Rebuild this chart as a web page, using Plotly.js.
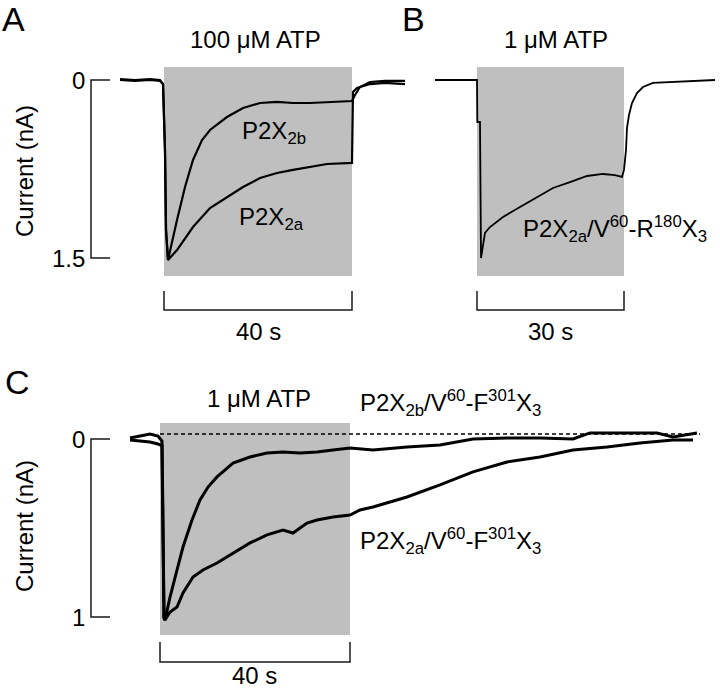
<!DOCTYPE html>
<html>
<head>
<meta charset="utf-8">
<script src="https://cdn.plot.ly/plotly-3.0.1.min.js"></script>
<style>
body { margin: 0; background: #fff; }
#chart { width: 720px; height: 689px; }
</style>
</head>
<body>
<div id="chart"></div>
<script>
// time in s from ATP onset, current = inward current amplitude in nA

// panel A, 100 uM ATP
var timeA2b = [-9.36, -6.17, -2.98, -0.85, -0.21, 0.21, 0.43, 0.85, 2.77, 4.47, 6.17, 8.09, 9.79, 13.40, 16.81, 20.43, 24.04, 27.45, 31.06, 34.68, 40.00, 40.64, 41.70, 43.83, 47.02, 51.28];
var currentA2b = [0.000, 0.008, 0.000, 0.008, 0.034, 0.590, 1.264, 1.517, 1.180, 0.902, 0.674, 0.506, 0.421, 0.312, 0.236, 0.194, 0.185, 0.194, 0.194, 0.185, 0.177, 0.126, 0.059, 0.017, 0.008, 0.008];
var timeA2a = [-9.36, -6.17, -2.98, -0.85, -0.21, 0.21, 0.43, 0.85, 2.77, 6.17, 9.79, 13.40, 16.81, 20.43, 24.04, 27.45, 31.06, 34.68, 40.00, 40.21, 41.06, 43.83, 47.02, 51.28];
var currentA2a = [-0.008, 0.000, -0.008, 0.000, 0.034, 0.590, 1.264, 1.517, 1.433, 1.239, 1.079, 0.986, 0.902, 0.826, 0.784, 0.758, 0.733, 0.708, 0.699, 0.101, 0.067, 0.034, 0.025, 0.034];

// panel B, 1 uM ATP, P2X2a/V60-R180X3
var timeB = [-8.57, -3.47, 0.00, 0.06, 0.61, 0.82, 1.22, 1.63, 2.65, 5.31, 8.78, 12.24, 15.51, 18.98, 22.45, 25.71, 28.16, 29.59, 30.00, 30.41, 30.61, 31.02, 31.63, 32.65, 33.88, 35.92, 39.39, 46.12, 48.57];
var currentB = [0, 0, 0, 0.354, 0.354, 1.500, 1.390, 1.289, 1.239, 1.154, 1.070, 0.986, 0.910, 0.860, 0.809, 0.792, 0.801, 0.817, 0.758, 0.590, 0.404, 0.295, 0.194, 0.110, 0.059, 0.025, 0.017, 0, 0];

// panel C, 1 uM ATP
var timeC2b = [-6.32, -4.21, -2.11, -0.42, 0.42, 0.63, 0.84, 1.05, 2.11, 3.58, 4.84, 6.74, 8.42, 10.11, 12.00, 15.37, 18.95, 22.53, 25.89, 29.47, 33.05, 36.42, 40.00, 44.84, 52.00, 58.95, 65.89, 73.05, 80.00, 86.95, 90.53, 97.47, 104.63, 108.00, 113.05];
var currentC2b = [-0.006, -0.017, -0.028, -0.017, 0.011, 0.455, 1.006, 1.017, 0.888, 0.736, 0.607, 0.455, 0.343, 0.270, 0.213, 0.135, 0.101, 0.079, 0.073, 0.079, 0.073, 0.062, 0.051, 0.062, 0.045, 0.034, 0.000, -0.006, -0.006, 0.000, -0.034, -0.034, -0.034, -0.011, -0.034];
var timeC2a = [-6.32, -4.21, -2.11, -0.42, 0.42, 0.63, 0.84, 1.05, 2.11, 3.58, 4.84, 6.95, 9.05, 12.00, 15.37, 18.95, 22.53, 25.89, 28.00, 30.95, 33.05, 36.42, 40.00, 42.11, 44.84, 52.00, 58.95, 65.89, 73.05, 80.00, 86.95, 94.11, 101.05, 108.00, 112.21];
var currentC2a = [0.006, 0.011, 0.017, 0.028, 0.039, 0.567, 1.000, 1.017, 0.972, 0.944, 0.865, 0.775, 0.736, 0.697, 0.640, 0.584, 0.539, 0.511, 0.528, 0.472, 0.455, 0.438, 0.427, 0.399, 0.382, 0.326, 0.258, 0.185, 0.129, 0.101, 0.062, 0.045, 0.022, 0.006, 0.006];

// ATP application windows (s) and scale bars
var atpA = [0, 40], atpB = [0, 30], atpC = [0, 40];
var scaleA = 1.5, scaleC = 1;     // nA
var barA = 40, barB = 30, barC = 40;  // s

var W = 720, H = 689;
function px(x) { return x / W; }
function py(y) { return 1 - y / H; }

var font = 'Liberation Sans, Arial, Helvetica, sans-serif';

function trace(x, y, xa, ya, w) {
  return { x: x, y: y, xaxis: xa, yaxis: ya, type: 'scatter', mode: 'lines',
           line: { color: '#000', width: w }, hoverinfo: 'skip', showlegend: false };
}

var data = [
  trace(timeA2a, currentA2a, 'x', 'y', 2.2),
  trace(timeA2b, currentA2b, 'x', 'y', 2.2),
  trace(timeB, currentB, 'x2', 'y2', 1.8),
  trace(timeC2a, currentC2a, 'x3', 'y3', 3),
  trace(timeC2b, currentC2b, 'x3', 'y3', 3)
];

var gray = '#bfbfbf';
var ink = '#1a1a1a';

function box(xa, ya, win, top, bottom) {
  return { type: 'rect', xref: xa, yref: ya, x0: win[0], x1: win[1], y0: top, y1: bottom,
           fillcolor: gray, line: { width: 0 }, layer: 'below' };
}
function vbar(xa, ya, x0, x1, v) {
  return { type: 'path', xref: xa, yref: ya, line: { color: ink, width: 1.5 },
           path: 'M' + x1 + ',0 L' + x0 + ',0 L' + x0 + ',' + v + ' L' + x1 + ',' + v };
}
function tbar(xa, ya, len, top, bot) {
  return { type: 'path', xref: xa, yref: ya, line: { color: ink, width: 1.5 },
           path: 'M0,' + top + ' L0,' + bot + ' L' + len + ',' + bot + ' L' + len + ',' + top };
}

var shapes = [
  box('x', 'y', atpA, -0.1096, 1.6517),
  box('x2', 'y2', atpB, -0.1096, 1.6517),
  box('x3', 'y3', atpC, -0.0899, 1.1011),
  vbar('x', 'y', -15.53, -11.49, scaleA),
  vbar('x3', 'y3', -14.53, -10.53, scaleC),
  tbar('x', 'y', barA, 1.778, 1.938),
  tbar('x2', 'y2', barB, 1.778, 1.938),
  tbar('x3', 'y3', barC, 1.140, 1.253),
  { type: 'line', xref: 'x3', yref: 'y3', x0: 0, x1: 113.7, y0: -0.028, y1: -0.028,
    line: { color: '#000', width: 1.3, dash: '4px,3px' } }
];

function lab(text, x, y, size, xanchor, extra) {
  var a = { text: text, xref: 'paper', yref: 'paper', x: px(x), y: py(y),
            xanchor: xanchor || 'center', yanchor: 'middle', showarrow: false,
            font: { family: font, size: size, color: '#000' } };
  for (var k in extra) a[k] = extra[k];
  return a;
}

var annotations = [
  lab('A', 0, 19, 34, 'left'),
  lab('B', 400, 19, 34, 'left'),
  lab('C', 3, 382, 34, 'left'),
  lab('100 μM ATP', 255, 40, 24),
  lab('1 μM ATP', 556, 40, 24),
  lab('1 μM ATP', 259, 398, 24),
  lab('Current (nA)', 24, 171, 24, 'center', { textangle: -90 }),
  lab('Current (nA)', 24, 526, 24, 'center', { textangle: -90 }),
  lab('0', 87, 80, 24, 'right'),
  lab('1.5', 87, 258, 24, 'right'),
  lab('0', 87, 439, 24, 'right'),
  lab('1', 87, 617, 24, 'right'),
  lab('40 s', 258, 331, 24),
  lab('30 s', 550, 331, 24),
  lab('40 s', 254, 675, 24),
  lab('P2X<sub>2b</sub>', 240, 133, 24, 'left'),
  lab('P2X<sub>2a</sub>', 237, 218, 24, 'left'),
  lab('P2X<sub>2a</sub>/V<sup>60</sup>-R<sup>180</sup>X<sub>3</sub>', 521, 229, 24, 'left'),
  lab('P2X<sub>2b</sub>/V<sup>60</sup>-F<sup>301</sup>X<sub>3</sub>', 358, 403, 24, 'left'),
  lab('P2X<sub>2a</sub>/V<sup>60</sup>-F<sup>301</sup>X<sub>3</sub>', 358, 541, 24, 'left')
];

function ax(dom, range) {
  return { domain: dom, range: range, visible: false, fixedrange: true, zeroline: false, showgrid: false };
}

var layout = {
  width: W, height: H,
  margin: { l: 0, r: 0, t: 0, b: 0 },
  paper_bgcolor: '#fff', plot_bgcolor: 'rgba(0,0,0,0)',
  showlegend: false,
  xaxis: ax([px(80), px(412)], [-17.872, 52.766]),
  yaxis: ax([py(320), py(55)], [2.0225, -0.2107]),
  xaxis2: ax([px(420), px(720)], [-11.633, 49.592]),
  yaxis2: ax([py(320), py(55)], [2.0225, -0.2107]),
  xaxis3: ax([px(80), px(720)], [-16.842, 117.895]),
  yaxis3: ax([py(670), py(415)], [1.2978, -0.1348]),
  shapes: shapes,
  annotations: annotations
};
layout.yaxis.anchor = 'x';
layout.yaxis2.anchor = 'x2';
layout.yaxis3.anchor = 'x3';
layout.xaxis.anchor = 'y';
layout.xaxis2.anchor = 'y2';
layout.xaxis3.anchor = 'y3';

Plotly.newPlot('chart', data, layout, { displayModeBar: false, staticPlot: true });
</script>
</body>
</html>
